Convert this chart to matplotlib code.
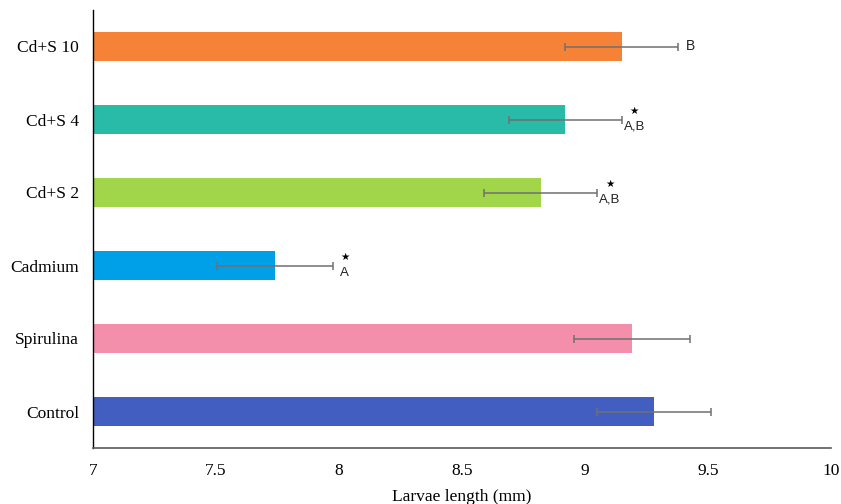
import matplotlib
matplotlib.use("Agg")
import matplotlib.pyplot as plt
import numpy as np

# groups from bottom to top
groups = ["Control", "Spirulina", "Cadmium", "Cd+S 2", "Cd+S 4", "Cd+S 10"]
length_mm = [9.28, 9.19, 7.74, 8.82, 8.92, 9.15]
sd_mm = [0.232, 0.235, 0.234, 0.23, 0.23, 0.23]
letters = ["", "", "A", "A,B", "A,B", "B"]
signif = [False, False, True, True, True, False]
colors = ["#425EC0", "#F48FAB", "#00A0E9", "#A1D64A", "#2ABBA8", "#F58237"]

fig = plt.figure(figsize=(8.41, 5.04), dpi=100)
ax = fig.add_axes([93 / 841, 56 / 504, 738 / 841, 438 / 504])

y = np.arange(len(groups))
ax.barh(y, np.array(length_mm) - 7, left=7, height=0.39, color=colors, zorder=2)
ax.errorbar(length_mm, y, xerr=sd_mm, fmt="none", ecolor="#707070",
            elinewidth=1.1, capsize=3.2, capthick=1.1, zorder=3)

for i in range(len(groups)):
    xt = length_mm[i] + sd_mm[i] + 0.05
    if signif[i]:
        ax.text(xt, y[i] + 0.12, "\u2605", ha="center", va="center",
                fontsize=7.5, family="DejaVu Sans", color="black")
        ax.text(xt, y[i] - 0.10, letters[i], ha="center", va="center",
                fontsize=9.5, family="Liberation Sans", color="#222222")
    elif letters[i]:
        ax.text(xt, y[i], letters[i], ha="center", va="center",
                fontsize=10, family="Liberation Sans", color="#222222")

ax.set_xlim(7, 10)
ax.set_ylim(-0.5, 5.5)
ax.set_xticks([7, 7.5, 8, 8.5, 9, 9.5, 10])
ax.set_xticklabels(["7", "7.5", "8", "8.5", "9", "9.5", "10"])
ax.set_yticks(y)
ax.set_yticklabels(groups)
ax.tick_params(axis="both", length=0, labelsize=12.5)
ax.tick_params(axis="y", pad=10)
ax.tick_params(axis="x", pad=11)
for lab in ax.get_xticklabels() + ax.get_yticklabels():
    lab.set_family("Liberation Serif")

ax.set_xlabel("Larvae length (mm)", fontsize=12.5, family="Liberation Serif", labelpad=7)

ax.spines["top"].set_visible(False)
ax.spines["right"].set_visible(False)
ax.spines["left"].set_color("black")
ax.spines["left"].set_linewidth(1.0)
ax.spines["bottom"].set_color("#5a5a5a")
ax.spines["bottom"].set_linewidth(1.2)

fig.savefig("out.png", dpi=100)
